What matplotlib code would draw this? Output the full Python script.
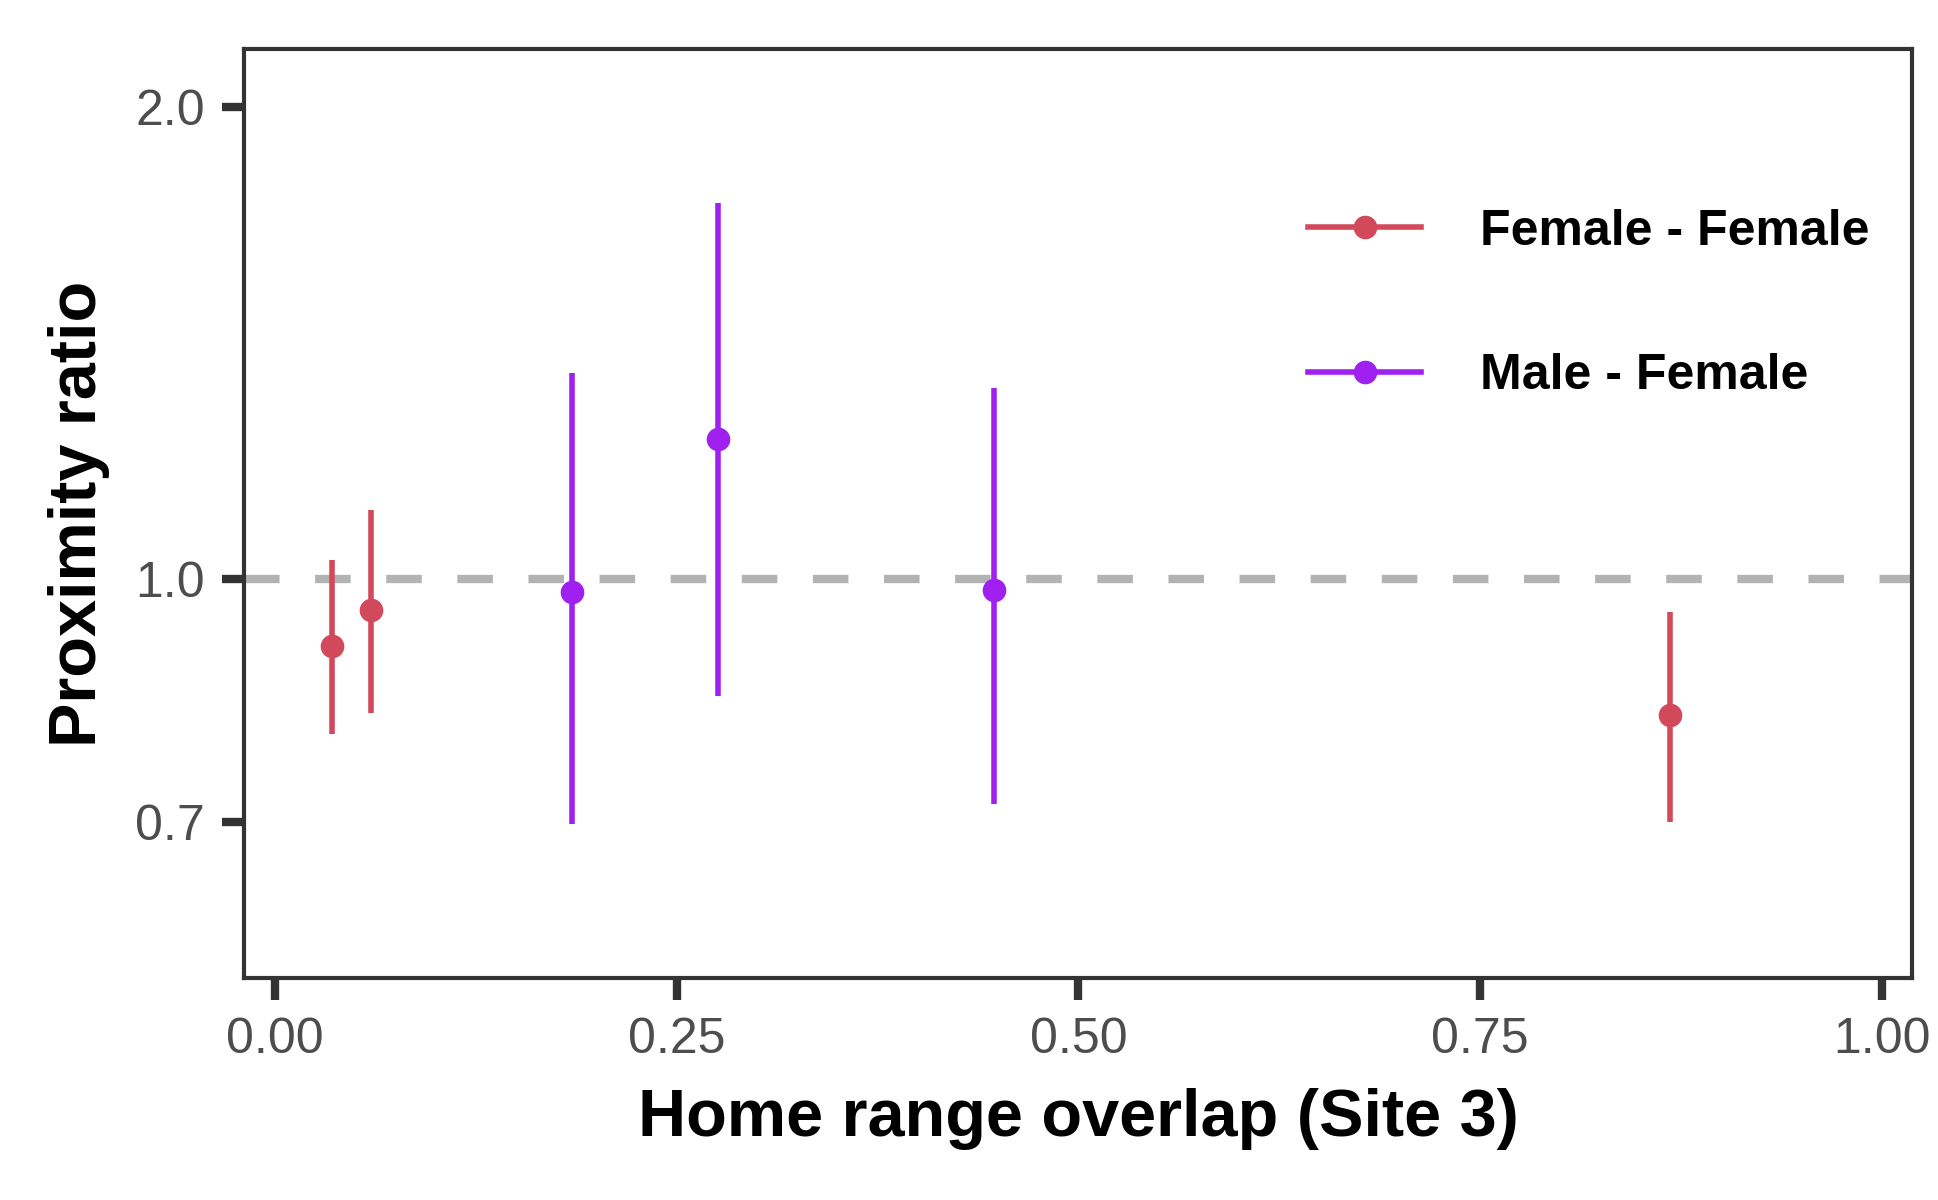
import matplotlib.pyplot as plt
from matplotlib.lines import Line2D

# Female - Female pairs
ff_overlap = [0.0356, 0.0596, 0.8685]
ff_ratio = [0.907, 0.956, 0.819]
ff_low = [0.796, 0.822, 0.700]
ff_high = [1.029, 1.106, 0.953]

# Male - Female pairs
mf_overlap = [0.1846, 0.2757, 0.4472]
mf_ratio = [0.981, 1.228, 0.984]
mf_low = [0.698, 0.842, 0.719]
mf_high = [1.354, 1.736, 1.324]

x_ticks = [0.0, 0.25, 0.5, 0.75, 1.0]
x_tick_labels = ['0.00', '0.25', '0.50', '0.75', '1.00']
y_ticks = [0.7, 1.0, 2.0]
y_tick_labels = ['0.7', '1.0', '2.0']

ff_col = '#D1495B'
mf_col = '#A020F0'

plt.rcParams['font.family'] = ['Liberation Sans', 'DejaVu Sans']

fig = plt.figure(figsize=(9.69, 6.0), dpi=200)
ax = fig.add_axes([0.1259, 0.1848, 0.8607, 0.7741])

ax.set_yscale('log')

lw_ref = 3.0
ax.axhline(1.0, color='#B3B3B3', lw=lw_ref, dashes=(12.8 / lw_ref, 12.8 / lw_ref), zorder=1)

ax.vlines(ff_overlap, ff_low, ff_high, color=ff_col, lw=2.0, zorder=2)
ax.plot(ff_overlap, ff_ratio, 'o', color=ff_col, ms=7.5, zorder=3)
ax.vlines(mf_overlap, mf_low, mf_high, color=mf_col, lw=2.0, zorder=2)
ax.plot(mf_overlap, mf_ratio, 'o', color=mf_col, ms=7.5, zorder=3)

ax.set_xlim(-0.0193, 1.0189)
ax.set_ylim(0.5566, 2.176)

ax.set_xticks(x_ticks)
ax.set_xticklabels(x_tick_labels)
ax.set_yticks(y_ticks)
ax.set_yticklabels(y_tick_labels)
ax.minorticks_off()
ax.tick_params(axis='both', which='major', length=8, width=3, color='#333333',
               labelcolor='#4D4D4D', labelsize=18, pad=6)

for s in ax.spines.values():
    s.set_color('#333333')
    s.set_linewidth(1.5)

ax.set_xlabel('Home range overlap (Site 3)', fontsize=24, fontweight='bold', labelpad=9)
ax.set_ylabel('Proximity ratio', fontsize=24, fontweight='bold', labelpad=9)

handles = [Line2D([], [], color=ff_col, lw=2.0, marker='o', ms=7.5),
           Line2D([], [], color=mf_col, lw=2.0, marker='o', ms=7.5)]
leg = ax.legend(handles, ['Female - Female', 'Male - Female'], loc='upper left',
                bbox_to_anchor=(0.611, 0.877), frameon=False,
                prop={'size': 18, 'weight': 'bold'},
                handlelength=2.26, handletextpad=1.18, labelspacing=1.97)

fig.savefig('out.png', dpi=200)
plt.close()
